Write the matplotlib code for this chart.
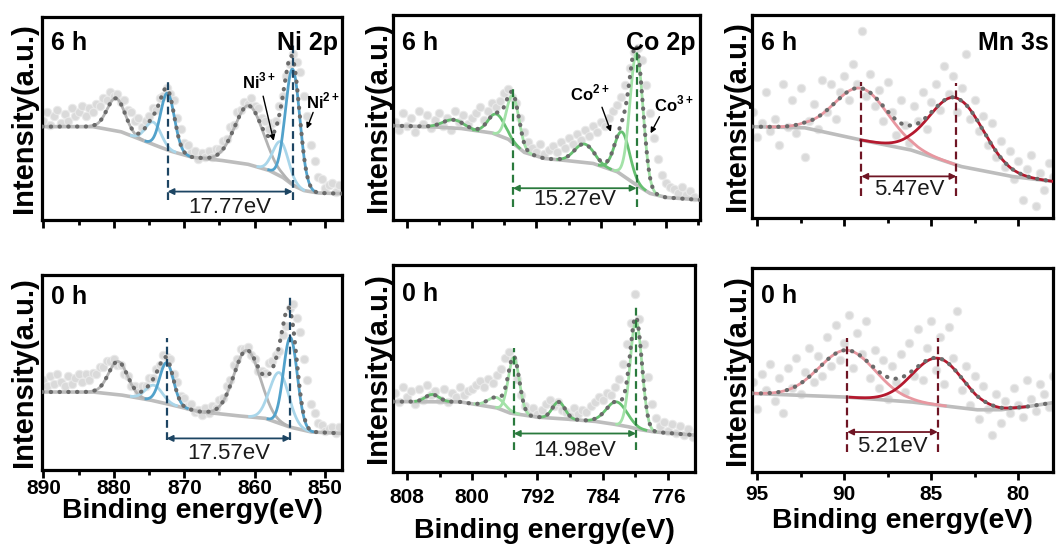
import numpy as np
import matplotlib.pyplot as plt
from matplotlib.ticker import MultipleLocator

plt.rcParams['font.family'] = ['Liberation Sans', 'DejaVu Sans']
plt.rcParams['font.weight'] = 'bold'
plt.rcParams['mathtext.fontset'] = 'custom'
plt.rcParams['mathtext.rm'] = 'Liberation Sans'
plt.rcParams['mathtext.bf'] = 'Liberation Sans:bold'

# measured energies (eV)
ni_energy = np.arange(890.0, 847.9, -0.5)
co_energy = np.arange(809.5, 772.4, -0.5)
mn_energy = np.arange(95.25, 77.9, -0.25)

# measured intensities (a.u.)
ni_6h_counts = [49, 53, 47, 51, 54, 48, 52, 49, 55, 51, 53,
                56, 51, 55, 53, 57, 56, 60, 59, 63, 61,
                62, 58, 59, 54, 53, 49, 50, 46, 49, 51,
                55, 54, 60, 61, 65, 62, 59, 50, 45, 38,
                37, 33, 34, 30, 33, 31, 34, 31, 35, 35,
                39, 40, 46, 47, 53, 54, 58, 57, 60, 56,
                55, 50, 49, 45, 48, 49, 56, 61, 71, 77,
                82, 78, 73, 61, 51, 37, 29, 21, 20, 16,
                17, 18, 14, 17]
ni_0h_counts = [46, 43, 48, 44, 49, 45, 43, 48, 44, 47, 49,
                45, 49, 46, 50, 49, 53, 53, 56, 56, 57,
                54, 54, 49, 48, 43, 43, 40, 43, 43, 47,
                47, 52, 54, 59, 58, 57, 49, 45, 38, 37,
                33, 34, 30, 31, 28, 32, 29, 33, 32, 36,
                37, 43, 46, 54, 57, 62, 62, 63, 59, 57,
                51, 51, 50, 55, 56, 59, 61, 69, 74, 83,
                85, 78, 71, 57, 46, 34, 29, 24, 23, 20,
                21, 22, 19, 22]
co_6h_counts = [48, 44, 52, 46, 50, 43, 53, 47, 51, 45,
                49, 52, 46, 50, 44, 53, 48, 51, 47, 50,
                52, 55, 49, 53, 57, 55, 58, 62, 64, 60,
                57, 50, 43, 38, 35, 33, 37, 32, 34, 36,
                33, 38, 35, 40, 37, 42, 39, 44, 41, 46,
                43, 48, 46, 50, 53, 56, 60, 66, 74, 82,
                84, 78, 66, 52, 40, 30, 22, 18, 16, 15,
                13, 16, 12, 14, 11]
co_0h_counts = [38, 34, 41, 36, 39, 33, 40, 35, 42, 37,
                39, 35, 40, 34, 38, 36, 41, 37, 39, 40,
                42, 44, 41, 45, 43, 47, 50, 55, 58, 54,
                45, 37, 32, 29, 31, 28, 30, 33, 35, 32,
                34, 30, 29, 27, 31, 28, 30, 29, 32, 34,
                36, 35, 38, 37, 41, 45, 52, 62, 72, 86,
                74, 62, 46, 33, 26, 22, 24, 20, 23, 19,
                22, 18, 21, 17, 20]
mn_6h_counts = [52, 40, 47, 62, 43, 49, 36, 66, 45, 58,
                42, 64, 30, 48, 56, 44, 68, 52, 66, 49,
                62, 70, 58, 76, 66, 92, 60, 71, 55, 63,
                48, 67, 52, 41, 58, 46, 37, 55, 48, 62,
                44, 57, 66, 53, 75, 61, 70, 52, 64, 81,
                49, 58, 43, 50, 36, 47, 30, 38, 25, 33,
                19, 28, 9, 24, 31, 6, 22, 14, 27, 20]
mn_0h_counts = [44, 31, 48, 40, 53, 35, 46, 29, 51, 41,
                56, 38, 49, 61, 44, 57, 47, 66, 52, 72,
                55, 63, 77, 51, 68, 58, 74, 46, 60, 41,
                55, 36, 52, 44, 58, 39, 63, 47, 70, 45,
                61, 74, 50, 66, 43, 71, 56, 79, 40, 52,
                33, 47, 26, 42, 31, 18, 38, 24, 35, 29,
                41, 33, 27, 45, 36, 30, 43, 38, 32, 47]

# Shirley-type backgrounds (energy, intensity)
ni_6h_bg_e = [890.2, 883, 879, 875, 872, 869, 865, 861, 858, 856, 854.5, 853, 851, 847.6]
ni_6h_bg = [46, 46, 43.5, 38, 34, 31, 29.5, 27.5, 24.5, 21, 17, 14.5, 13.3, 13]
ni_0h_bg_e = [890.2, 883, 879, 875, 872.5, 868, 863, 858.5, 855, 852, 847.6]
ni_0h_bg = [40, 40, 38.5, 36, 34, 30, 28, 26.5, 22, 19.5, 18.8]
co_6h_bg_e = [809.7, 805, 801.4, 797.5, 795.5, 793.5, 791, 789, 785, 782, 780, 778, 776, 771.8]
co_6h_bg = [46, 45.5, 44.7, 42.5, 39.5, 33, 30, 29.3, 27.6, 23.5, 18, 13, 11, 9.8]
co_0h_bg_e = [809.7, 801.5, 797, 795.4, 792, 789.2, 785, 783.1, 781, 779.5, 777.8, 772.7]
co_0h_bg = [34, 33.9, 31, 28.5, 26.5, 25.8, 24.5, 23.4, 22, 20.5, 19.4, 17.8]
mn_6h_bg_e = [95.3, 92.3, 89.1, 86.2, 83.3, 80.4, 78.0]
mn_6h_bg = [45, 44.5, 38.5, 33.6, 25.4, 20.5, 18]
mn_0h_bg_e = [95.3, 90, 86.2, 82.4, 81, 79.5, 78.0]
mn_0h_bg = [38.5, 36.8, 34.4, 30.5, 30.5, 32, 34]

# fitted components: centre (eV), height, FWHM (eV), type
ni_kind = ['sat', 'minor', 'major', 'sat', 'minor', 'major']
ni_6h_center = [879.7, 874.4, 872.37, 860.8, 856.3, 854.6]
ni_6h_height = [16, 11, 28, 29, 17, 57]
ni_6h_fwhm = [3.0, 2.6, 2.3, 4.8, 2.6, 2.4]
ni_0h_center = [879.4, 874.3, 872.5, 861.1, 856.5, 854.93]
ni_0h_height = [17, 8, 21, 34, 26, 46]
ni_0h_fwhm = [3.2, 2.8, 2.3, 4.4, 3.2, 2.3]

co_6h_kind = ['minor', 'minor', 'major', 'minor', 'minor', 'major']
co_6h_center = [802.3, 796.9, 794.9, 786.1, 781.4, 779.63]
co_6h_height = [4, 10, 23, 9, 21, 64]
co_6h_fwhm = [3.0, 2.4, 1.8, 2.8, 2.2, 1.9]
co_0h_kind = ['minor', 'major', 'major', 'minor', 'minor', 'major']
co_0h_center = [804.9, 797.0, 794.9, 789.4, 782.3, 779.92]
co_0h_height = [3.5, 5, 27, 8, 11, 52]
co_0h_fwhm = [2.0, 2.5, 1.6, 1.8, 3.0, 1.7]

mn_kind = ['minor', 'major']
mn_6h_center = [89.02, 83.55]
mn_6h_height = [25.5, 33]
mn_6h_fwhm = [3.6, 3.6]
mn_0h_center = [89.83, 84.62]
mn_0h_height = [23, 23]
mn_0h_fwhm = [3.8, 3.4]

W, H = 1056, 546
fig = plt.figure(figsize=(W / 100, H / 100), dpi=100)


def rect(l, t, r, b):
    return [l / W, 1 - b / H, (r - l) / W, (b - t) / H]


def gauss(x, c, h, w):
    return h * np.exp(-4 * np.log(2) * (x - c) ** 2 / w ** 2)


def spectrum(ax, xlim, energy, counts, bg_e, bg, centers, heights, fwhms, kinds,
             colors, cutoff=0.2):
    x = np.linspace(xlim[0], xlim[1], 800)
    base = np.interp(x, bg_e[::-1], bg[::-1])
    ax.scatter(energy, counts, s=36, c='#dadada', edgecolors='#e9e9e9',
               linewidths=0.8, zorder=1)
    ax.plot(x, base, color='#bdbdbd', lw=2.6, zorder=2, solid_capstyle='round')
    total = base.copy()
    for c, h, w, k in zip(centers, heights, fwhms, kinds):
        g = gauss(x, c, h, w)
        total += g
        m = g > cutoff
        ax.plot(x[m], (base + g)[m], color=colors[k], lw=2.0, zorder=3)
    ax.plot(x, total, color='#6b6b6b', lw=3.0, ls=(0, (0.1, 2.0)),
            dash_capstyle='round', zorder=4)
    ax.set_xlim(*xlim)
    ax.set_ylim(0, 100)


def split(ax, x1, top1, x2, top2, ybot, yarr, ylab, text, color):
    for xv, yt in ((x1, top1), (x2, top2)):
        ax.plot([xv, xv], [ybot, yt], color=color, lw=1.6, ls=(0, (3.5, 2)), zorder=5)
    ax.annotate('', xy=(x2, yarr), xytext=(x1, yarr),
                arrowprops=dict(arrowstyle='<|-|>', color=color, lw=1.3,
                                mutation_scale=9, shrinkA=0, shrinkB=0), zorder=5)
    ax.text((x1 + x2) / 2, ylab, text, ha='center', va='center', fontsize=16,
            fontweight='normal', color='#1a1a1a', zorder=6)


def ion(ax, label, xy_text, tail, head):
    ax.text(xy_text[0], xy_text[1], label, ha='center', va='center', fontsize=12,
            fontweight='bold', zorder=6)
    ax.annotate('', xy=head, xytext=tail,
                arrowprops=dict(arrowstyle='-|>', color='k', lw=1.0,
                                mutation_scale=8, shrinkA=0, shrinkB=0), zorder=6)


def style(ax, major, minor, bottom_row, pad, labelpad, ylabelpad, time, element,
          ty):
    for s in ax.spines.values():
        s.set_linewidth(2.3)
    ax.set_yticks([])
    ax.xaxis.set_major_locator(MultipleLocator(major))
    ax.xaxis.set_minor_locator(MultipleLocator(minor))
    ax.tick_params(axis='x', which='major', direction='out', length=5.5, width=2,
                   labelsize=15, pad=pad, labelbottom=bottom_row)
    ax.tick_params(axis='x', which='minor', direction='out', length=3.5, width=2)
    ax.set_ylabel('Intensity(a.u.)', fontsize=21, fontweight='bold', labelpad=ylabelpad)
    if bottom_row:
        ax.set_xlabel('Binding energy(eV)', fontsize=20.5, fontweight='bold',
                      labelpad=labelpad)
    ax.text(0.03, ty, time, transform=ax.transAxes, ha='left', va='top',
            fontsize=18, fontweight='bold', zorder=7)
    if element:
        ax.text(0.985, ty, element, transform=ax.transAxes, ha='right', va='top',
                fontsize=18, fontweight='bold', zorder=7)


ni_colors = {'sat': '#b3b3b3', 'minor': '#a9d6ea', 'major': '#52a2cb'}
co_colors = {'minor': '#66c071', 'major': '#a3e2a8'}
mn_colors = {'minor': '#e897a0', 'major': '#b5192e'}
ni_dash, co_dash, mn_dash = '#1d4563', '#2a7a3d', '#6f1524'

ni_xlim = (890.2, 847.6)
mn_xlim = (95.3, 78.0)

# Ni 2p
ax = fig.add_axes(rect(42, 17, 342, 220))
spectrum(ax, ni_xlim, ni_energy, ni_6h_counts, ni_6h_bg_e, ni_6h_bg,
         ni_6h_center, ni_6h_height, ni_6h_fwhm, ni_kind, ni_colors)
split(ax, 872.37, 68, 854.60, 86, 10, 14, 6.4, '17.77eV', ni_dash)
ion(ax, r'Ni$^{\mathbf{3+}}$', (859.4, 68.5), (858.8, 61), (857.3, 39))
ion(ax, r'Ni$^{\mathbf{2+}}$', (850.3, 58.6), (851.7, 53), (852.6, 45))
style(ax, 10, 5, False, 2, 0, 3, '6 h', 'Ni 2p', 0.93)

ax = fig.add_axes(rect(42, 275, 342, 470))
spectrum(ax, ni_xlim, ni_energy, ni_0h_counts, ni_0h_bg_e, ni_0h_bg,
         ni_0h_center, ni_0h_height, ni_0h_fwhm, ni_kind, ni_colors)
split(ax, 872.50, 67.5, 854.93, 89.7, 15.4, 16.2, 8.5, '17.57eV', ni_dash)
style(ax, 10, 5, True, 1, 0, 3, '0 h', None, 0.95)

# Co 2p
ax = fig.add_axes(rect(393, 15, 700, 220))
spectrum(ax, (809.7, 771.8), co_energy, co_6h_counts, co_6h_bg_e, co_6h_bg,
         co_6h_center, co_6h_height, co_6h_fwhm, co_6h_kind, co_colors)
split(ax, 794.90, 65, 779.63, 83, 6.5, 15.5, 9.8, '15.27eV', co_dash)
ion(ax, r'Co$^{\mathbf{2+}}$', (785.4, 61.7), (783.9, 55), (782.8, 43))
ion(ax, r'Co$^{\mathbf{3+}}$', (775.0, 56.5), (776.8, 50.4), (777.9, 42.3))
style(ax, 8, 4, False, 2, 0, 1, '6 h', 'Co 2p', 0.92)

ax = fig.add_axes(rect(393, 265, 695, 472))
spectrum(ax, (809.7, 772.7), co_energy, co_0h_counts, co_0h_bg_e, co_0h_bg,
         co_0h_center, co_0h_height, co_0h_fwhm, co_0h_kind, co_colors)
split(ax, 794.90, 59.7, 779.92, 80.6, 10.5, 18.6, 10.5, '14.98eV', co_dash)
style(ax, 8, 4, True, 6, 8, 1, '0 h', None, 0.92)

# Mn 3s
ax = fig.add_axes(rect(752, 15, 1053, 218))
spectrum(ax, mn_xlim, mn_energy, mn_6h_counts, mn_6h_bg_e, mn_6h_bg,
         mn_6h_center, mn_6h_height, mn_6h_fwhm, mn_kind, mn_colors, cutoff=0.05)
split(ax, 89.02, 67, 83.55, 66.4, 11, 20.5, 14, '5.47eV', mn_dash)
style(ax, 5, 2.5, False, 2, 0, 1, '6 h', 'Mn 3s', 0.92)

ax = fig.add_axes(rect(752, 268, 1053, 472))
spectrum(ax, mn_xlim, mn_energy, mn_0h_counts, mn_0h_bg_e, mn_0h_bg,
         mn_0h_center, mn_0h_height, mn_0h_fwhm, mn_kind, mn_colors, cutoff=0.05)
split(ax, 89.83, 65.5, 84.62, 65.5, 10, 19.6, 12.3, '5.21eV', mn_dash)
style(ax, 5, 2.5, True, 4, 3, 1, '0 h', None, 0.92)

fig.savefig('out.png', dpi=100)
